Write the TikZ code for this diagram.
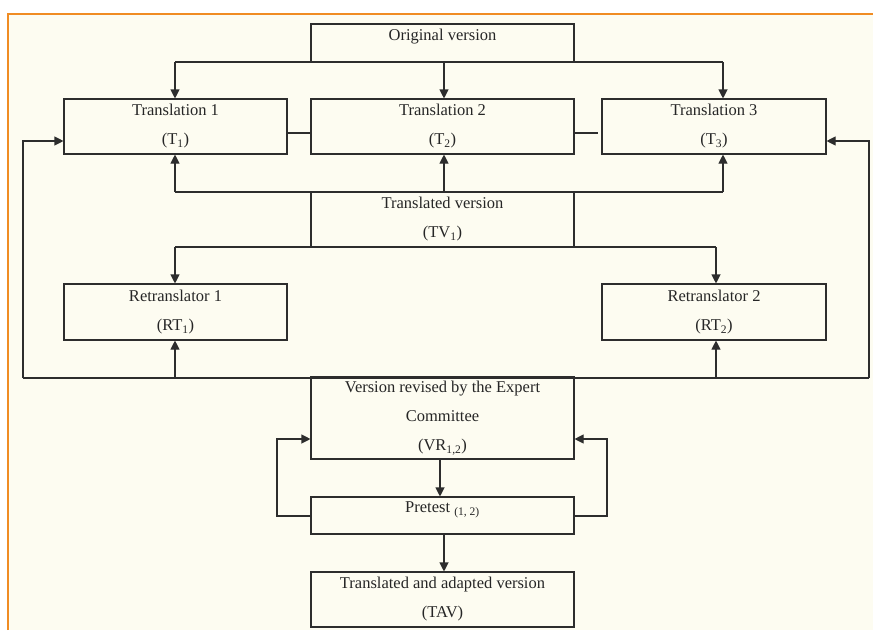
\documentclass[tikz,border=0pt]{standalone}
\usepackage{fontspec}
\setmainfont{Liberation Serif}
\usetikzlibrary{arrows.meta}
\definecolor{cream}{RGB}{253,252,241}
\definecolor{frame}{RGB}{240,140,35}
\definecolor{ink}{RGB}{45,45,45}
\begin{document}
\begin{tikzpicture}[x=1pt,y=-1pt,
  box/.style={draw=ink, line width=1.1pt, rectangle, inner sep=0pt, align=center,
    font=\fontsize{16.5}{29}\selectfont, text=black!85},
  topbox/.style={box, text height=11pt, text depth=17pt},
  ln/.style={draw=ink, line width=1.1pt},
  arr/.style={ln, -{Triangle[length=9pt,width=9pt]}}]
\useasboundingbox (0,0) rectangle (873,630);
\fill[white] (0,0) rectangle (873,630);
\fill[cream] (8,14) rectangle (873,630);
\draw[frame, line width=2pt] (8,630) -- (8,14) -- (873,14);

% boxes
\node[topbox, minimum width=263pt, minimum height=38pt] (ov) at (442.5,43) {Original version};
\node[box, minimum width=223pt, minimum height=55pt] (t1) at (175.5,126.5) {Translation 1\\(T\textsubscript{1})};
\node[box, minimum width=263pt, minimum height=55pt] (t2) at (442.5,126.5) {Translation 2\\(T\textsubscript{2})};
\node[box, minimum width=224pt, minimum height=55pt] (t3) at (714,126.5) {Translation 3\\(T\textsubscript{3})};
\node[box, minimum width=263pt, minimum height=55pt] (tv) at (442.5,219.5) {Translated version\\(TV\textsubscript{1})};
\node[box, minimum width=223pt, minimum height=56pt] (rt1) at (175.5,312) {Retranslator 1\\(RT\textsubscript{1})};
\node[box, minimum width=224pt, minimum height=56pt] (rt2) at (714,312) {Retranslator 2\\(RT\textsubscript{2})};
\node[box, minimum width=263pt, minimum height=82pt] (vr) at (442.5,418) {Version revised by the Expert\\Committee\\(VR\textsubscript{1,2})};
\node[topbox, minimum width=263pt, minimum height=37pt] (pt) at (442.5,515.5) {Pretest \textsubscript{(1, 2)}};
\node[box, minimum width=263pt, minimum height=55pt] (tav) at (442.5,599.5) {Translated and adapted version\\(TAV)};

% original version -> translations
\coordinate (ovL) at (175,62);
\coordinate (ovR) at (723,62);
\draw[ln] (ovL) -- (ovR);
\draw[arr] (ovL) -- (ovL |- t1.north);
\draw[arr] ([xshift=1.5pt]ov.south) -- ([xshift=1.5pt]t2.north);
\draw[arr] (ovR) -- (ovR |- t3.north);

% links between translations
\draw[ln] ([yshift=-6.5pt]t1.east) -- ([yshift=-6.5pt]t2.west);
\draw[ln] ([yshift=-6.5pt]t2.east) -- ([yshift=-6.5pt,xshift=-3pt]t3.west);

% translated version -> translations
\coordinate (tvL) at (175,192);
\coordinate (tvR) at (723,192);
\draw[ln] (tvL) -- (tvR);
\draw[arr] (tvL) -- (tvL |- t1.south);
\draw[arr] ([xshift=1.5pt]tv.north) -- ([xshift=1.5pt]t2.south);
\draw[arr] (tvR) -- (tvR |- t3.south);

% translated version -> retranslators
\coordinate (tbL) at (175,247);
\coordinate (tbR) at (716,247);
\draw[ln] (tbL) -- (tbR);
\draw[arr] (tbL) -- (tbL |- rt1.north);
\draw[arr] (tbR) -- (tbR |- rt2.north);

% expert committee feedback
\coordinate (fbL) at (23,378);
\coordinate (fbR) at (869,378);
\coordinate (fbA) at (175,378);
\coordinate (fbB) at (716,378);
\coordinate (t1in) at ([yshift=-14.5pt]t1.west);
\coordinate (t3in) at ([yshift=-14.5pt]t3.east);
\draw[ln] (fbL) -- (fbR);
\draw[arr] (fbA) -- (fbA |- rt1.south);
\draw[arr] (fbB) -- (fbB |- rt2.south);
\draw[arr] (fbL) -- (fbL |- t1in) -- (t1in);
\draw[arr] (fbR) -- (fbR |- t3in) -- (t3in);

% committee / pretest
\coordinate (lpA) at (277,516);
\coordinate (lpB) at (277,439);
\coordinate (rpA) at (607,516);
\coordinate (rpB) at (607,439);
\draw[arr] ([xshift=-2.5pt]vr.south) -- ([xshift=-2.5pt]pt.north);
\draw[arr] (pt.west |- lpA) -- (lpA) -- (lpB) -- (vr.west |- lpB);
\draw[arr] (pt.east |- rpA) -- (rpA) -- (rpB) -- (vr.east |- rpB);
\draw[arr] ([xshift=1.5pt]pt.south) -- ([xshift=1.5pt]tav.north);
\end{tikzpicture}
\end{document}
